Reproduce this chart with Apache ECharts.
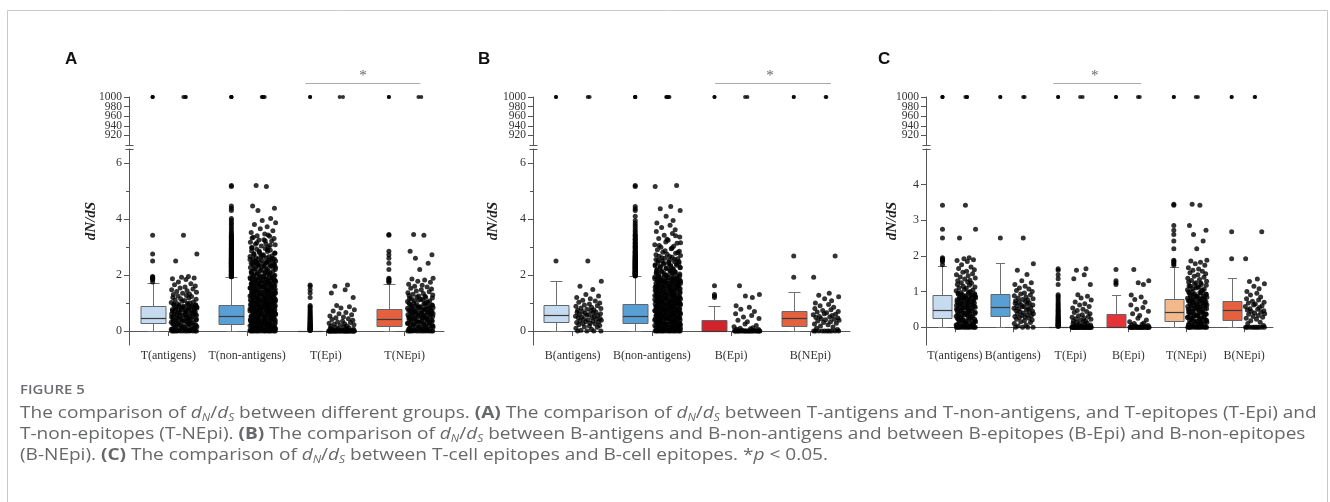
<!DOCTYPE html>
<html><head><meta charset="utf-8">
<script src="https://cdn.jsdelivr.net/npm/echarts@6/dist/echarts.min.js"></script>
<style>html,body{margin:0;padding:0;background:#fff}#c{width:1330px;height:502px}</style>
</head><body><div id="c"></div>
<script>
// ---------- categories ----------
const catsA = ['T(antigens)', 'T(non-antigens)', 'T(Epi)', 'T(NEpi)'];
const catsB = ['B(antigens)', 'B(non-antigens)', 'B(Epi)', 'B(NEpi)'];
const catsC = ['T(antigens)', 'B(antigens)', 'T(Epi)', 'B(Epi)', 'T(NEpi)', 'B(NEpi)'];

// ---------- tick labels ----------
const upperTicksOdd = [920, 960, 1000];
const upperTicksEven = [940, 980];
const lowerTicksAB = [0, 2, 4, 6];
const minorTicksAB = [1, 3, 5];
const lowerTicksC = [0, 1, 2, 3, 4];

// ---------- box statistics [min, Q1, median, Q3, upper whisker] ----------
const statTAntigens    = [0, 0.27, 0.48, 0.90, 1.71];
const statTNonAntigens = [0, 0.26, 0.52, 0.92, 1.92];
const statTEpi         = [0, 0, 0, 0, 0];
const statTNEpi        = [0, 0.18, 0.42, 0.80, 1.68];
const statBAntigens    = [0, 0.31, 0.58, 0.93, 1.80];
const statBNonAntigens = [0, 0.28, 0.53, 0.95, 1.95];
const statBEpi         = [0, 0, 0, 0.38, 0.90];
const statBNEpi        = [0, 0.19, 0.48, 0.73, 1.38];

// ---------- jitter offsets (fraction of half-width) ----------
const jitter = [-0.83,0.41,-0.12,0.95,-0.57,0.23,-0.96,0.68,-0.31,0.07,0.86,-0.74,0.52,-0.44,0.14,-0.9,0.77,-0.2,0.33,-0.65,0.98,-0.05,0.6,-0.38,0.89,-0.79,0.27,-0.52,0.45,-0.99,0.71,-0.15,0.03,-0.69,0.92,-0.27,0.36,-0.87,0.57,-0.47,0.18];

// ---------- individual dN/dS values ----------
const tAntigens = [
 0,0,0,0,0,0,0,0,0,0,0,0,
 0.02,0.03,0.05,0.07,0.08,0.1,0.12,0.13,0.15,0.17,0.19,0.2,0.22,0.23,0.26,0.27,0.29,0.31,0.32,0.34,0.36,0.37,0.39,0.41,0.43,0.44,0.46,0.48,0.49,0.51,0.53,0.55,0.56,0.58,0.6,0.61,0.63,0.65,0.67,0.68,0.7,0.72,0.74,0.75,0.77,0.79,0.81,0.83,0.84,0.86,0.88,0.9,0.92,0.94,0.96,0.98,
 0.01,0.04,0.06,0.09,0.11,0.14,0.16,0.18,0.21,0.24,0.25,0.28,0.3,0.33,0.35,0.38,0.4,0.42,0.45,0.47,0.5,0.52,0.54,0.57,0.59,0.62,0.64,0.66,0.69,0.71,0.73,0.76,0.78,0.8,0.82,0.85,0.87,0.89,0.91,0.93,0.95,0.97,
 1.0,1.02,1.04,1.06,1.09,1.11,1.13,1.15,1.18,1.2,1.23,1.25,1.27,1.3,1.32,1.35,1.38,1.41,1.44,1.47,1.5,1.54,1.57,1.61,1.65,1.69,1.75,1.84,1.87,1.89,1.92,1.95,2.5,2.75,3.42,
 1000,1000,1000];

const tNonAntigens = [
 0,0,0,0,0,0,0,0,0,0,0,0,0,0,
 0.01,0.02,0.03,0.05,0.06,0.07,0.08,0.09,0.11,0.12,0.13,0.14,0.16,0.17,0.18,0.19,0.2,0.22,0.23,0.24,0.25,0.27,0.28,0.29,0.3,0.31,0.33,0.34,0.35,0.37,0.38,0.39,0.4,0.41,0.43,0.44,0.45,0.46,0.48,0.49,0.5,0.52,0.53,0.54,0.55,0.57,0.58,0.59,0.6,0.62,0.63,0.64,0.65,0.67,0.68,0.69,0.71,0.72,0.73,0.74,0.76,0.77,0.78,0.79,0.81,0.82,0.83,0.85,0.86,0.87,0.88,0.9,0.91,0.92,0.94,0.95,0.96,0.97,0.99,1.0,1.01,1.03,1.04,1.05,1.07,1.08,1.09,1.11,1.12,1.13,1.15,1.16,1.17,1.19,
 1.2,1.22,1.23,1.25,1.26,1.28,1.3,1.31,1.33,1.34,1.36,1.38,1.39,1.41,1.42,1.44,1.46,1.47,1.49,1.5,1.52,1.54,1.55,1.57,1.58,1.6,1.62,1.63,1.65,1.66,1.68,1.7,1.71,1.73,1.74,1.76,1.78,1.79,1.81,1.82,1.84,1.86,1.87,1.89,1.9,1.92,1.94,1.95,1.97,1.99,2.01,2.03,2.05,2.07,2.09,2.11,2.13,2.15,2.17,2.2,2.22,2.25,2.27,2.3,
 2.31,2.33,2.34,2.36,2.37,2.39,2.4,2.42,2.43,2.45,2.46,2.48,2.5,2.52,2.54,2.55,2.57,2.58,2.61,2.62,2.65,2.66,2.69,2.71,2.72,2.76,2.78,2.8,2.84,2.86,2.88,2.92,2.95,2.96,3.0,3.04,3.08,3.1,3.12,3.17,3.21,3.25,3.26,3.3,3.35,3.38,3.4,3.46,
 3.52,3.58,3.65,3.72,3.8,3.87,3.95,4.02,4.3,4.38,4.46,5.16,5.2,
 0.015,0.035,0.045,0.065,0.085,0.105,0.115,0.135,0.155,0.175,0.195,0.215,0.235,0.255,0.265,0.285,0.305,0.325,0.345,0.365,0.375,0.395,0.415,0.435,0.455,0.475,0.485,0.505,0.525,0.545,0.565,0.585,0.595,0.615,0.635,0.655,0.675,0.695,0.705,0.725,0.745,0.765,0.785,0.805,0.815,0.835,0.855,0.875,0.895,0.915,0.925,0.945,0.965,0.985,1.005,1.025,1.035,1.055,1.075,1.095,1.115,1.135,1.145,1.165,1.185,1.205,1.225,1.245,1.255,1.275,1.295,1.315,1.335,1.355,1.365,1.385,1.405,1.425,1.445,1.465,1.475,1.495,1.515,1.535,1.555,1.575,1.585,1.605,1.625,1.645,1.665,1.685,1.695,1.715,1.735,1.755,1.775,1.795,1.805,1.825,1.845,1.865,1.885,1.905,1.935,1.965,1.985,2.015,2.045,2.075,2.105,2.135,2.165,2.195,2.235,2.265,2.295,2.325,2.355,2.385,2.415,2.445,2.475,2.515,2.555,2.595,2.635,2.685,2.735,2.79,2.85,2.9,2.98,3.06,3.15,3.22,3.32,3.43,
 1000,1000,1000,1000];

const tEpi = [
 0,0,0,0,0,0,0,0,0,0,0,0,0,0,0,0,0,0,0,0,0,0,0,0,0,0,0,0,0,0,
 0.02,0.03,0.04,0.05,0.06,0.08,0.09,0.1,0.12,0.13,0.15,0.17,0.18,0.2,0.22,0.24,0.26,0.28,0.3,0.32,0.35,0.38,0.41,0.44,0.47,0.5,0.54,0.58,0.62,0.66,0.71,0.76,0.82,0.87,0.91,
 1.2,1.36,1.47,1.6,1.64,
 1000,1000];

const tNEpi = [
 0,0,0,0,0,0,0,0,0,0,0,0,
 0.02,0.03,0.05,0.06,0.08,0.09,0.11,0.12,0.14,0.15,0.17,0.18,0.2,0.21,0.23,0.25,0.26,0.28,0.29,0.31,0.33,0.34,0.36,0.37,0.39,0.41,0.42,0.44,0.46,0.47,0.49,0.51,0.52,0.54,0.56,0.58,0.59,0.61,0.63,0.65,0.66,0.68,0.7,0.72,0.74,0.76,0.78,0.8,0.82,0.84,0.86,0.88,0.9,0.93,0.95,0.97,1.0,1.02,1.05,1.07,1.1,1.13,1.15,1.18,1.21,1.24,1.27,
 0.01,0.04,0.07,0.1,0.13,0.16,0.19,0.22,0.24,0.27,0.3,0.32,0.35,0.38,0.4,0.43,0.45,0.48,0.5,0.53,0.55,0.57,0.6,0.62,0.64,0.67,0.69,0.71,0.73,0.75,0.77,0.79,0.81,0.83,0.85,0.87,0.89,0.92,0.94,0.96,0.99,1.03,1.08,1.12,1.16,1.2,1.25,1.29,
 1.31,1.34,1.37,1.4,1.43,1.47,1.5,1.53,1.57,1.6,1.63,1.67,1.74,1.78,1.82,1.86,1.88,2.2,2.42,2.6,2.72,2.85,3.42,3.45,
 1000,1000];

const bAntigens = [
 0,0,0,0,0.03,0.06,0.1,0.13,0.15,0.18,0.2,0.22,0.25,0.27,0.28,0.3,0.32,0.33,0.35,0.37,0.38,0.4,0.42,0.43,0.45,0.47,0.48,0.5,0.52,0.53,0.55,0.57,0.58,0.6,0.62,0.63,0.65,0.67,0.68,0.7,0.72,0.74,0.76,0.78,0.8,0.82,0.85,0.88,0.9,0.93,0.96,1.0,1.03,1.07,1.1,1.15,1.2,1.25,1.3,1.48,1.6,1.78,2.5,
 1000,1000];

const bNonAntigens = [
 0,0,0,0,0,0,0,0,0,0,0,0,0,0,
 0.01,0.02,0.04,0.05,0.06,0.07,0.09,0.1,0.11,0.12,0.14,0.15,0.16,0.18,0.19,0.2,0.21,0.23,0.24,0.25,0.26,0.28,0.29,0.3,0.32,0.33,0.34,0.35,0.37,0.38,0.39,0.41,0.42,0.43,0.44,0.46,0.47,0.48,0.5,0.51,0.52,0.53,0.55,0.56,0.57,0.59,0.6,0.61,0.62,0.64,0.65,0.66,0.68,0.69,0.7,0.72,0.73,0.74,0.75,0.77,0.78,0.79,0.8,0.82,0.83,0.84,0.86,0.87,0.88,0.89,0.91,0.92,0.93,0.95,0.96,0.97,0.98,1.0,1.01,1.02,1.04,1.05,1.06,1.08,1.09,1.1,1.12,1.13,1.14,1.16,1.17,1.18,
 1.2,1.21,1.23,1.24,1.26,1.27,1.29,1.31,1.32,1.34,1.35,1.37,1.39,1.4,1.42,1.43,1.45,1.47,1.48,1.5,1.51,1.53,1.55,1.56,1.58,1.59,1.61,1.63,1.64,1.66,1.67,1.69,1.71,1.72,1.74,1.75,1.77,1.79,1.8,1.82,1.83,1.85,1.87,1.88,1.9,1.91,1.93,1.96,1.98,2.0,2.02,2.04,2.06,2.08,2.1,2.12,2.14,2.16,2.18,2.21,2.23,2.26,2.28,2.3,2.33,2.35,2.38,2.4,2.43,2.45,2.47,2.5,
 2.52,2.55,2.58,2.6,2.63,2.67,2.7,2.74,2.78,2.81,2.85,2.9,2.94,2.99,3.03,3.08,3.13,3.18,3.24,3.3,3.36,3.42,3.48,
 3.55,3.62,3.7,3.78,3.86,3.95,4.1,4.3,4.37,4.45,5.16,5.2,
 0.015,0.025,0.045,0.065,0.085,0.095,0.115,0.135,0.155,0.175,0.185,0.205,0.225,0.245,0.265,0.275,0.295,0.315,0.335,0.355,0.365,0.385,0.405,0.425,0.445,0.455,0.475,0.495,0.515,0.535,0.545,0.565,0.585,0.605,0.625,0.635,0.655,0.675,0.695,0.715,0.725,0.745,0.765,0.785,0.805,0.815,0.835,0.855,0.875,0.895,0.905,0.925,0.945,0.965,0.985,0.995,1.015,1.035,1.055,1.075,1.085,1.105,1.125,1.145,1.165,1.175,1.195,1.215,1.235,1.255,1.265,1.285,1.305,1.325,1.345,1.355,1.375,1.395,1.415,1.435,1.445,1.465,1.485,1.505,1.525,1.535,1.555,1.575,1.595,1.615,1.625,1.645,1.665,1.685,1.705,1.715,1.735,1.755,1.775,1.795,1.805,1.825,1.845,1.865,1.885,1.895,1.915,1.945,1.975,2.005,2.035,2.065,2.095,2.125,2.155,2.185,2.215,2.245,2.275,2.305,2.335,2.365,2.395,2.425,2.455,2.485,2.515,2.565,2.615,2.665,2.72,2.8,2.87,2.96,3.05,3.15,3.28,3.4,
 1000,1000,1000,1000];

const bEpi = [
 0,0,0,0,0,0,0,0,0,0,0,0,0,0,0,0,0,0,0,0,0,0,
 0.02,0.03,0.05,0.06,0.08,0.1,0.12,0.15,0.2,0.25,0.33,0.38,0.45,0.5,0.55,0.62,0.7,0.78,0.85,0.9,
 1.2,1.25,1.3,1.62,
 1000,1000];

const bNEpi = [
 0,0,0,0,0,0,0,0,0,0,
 0.05,0.1,0.14,0.18,0.22,0.25,0.28,0.3,0.33,0.36,0.38,0.4,0.42,0.44,0.46,0.48,0.5,0.52,0.55,0.58,0.6,0.62,0.65,0.68,0.7,0.73,0.76,0.8,0.85,0.9,0.95,1.0,1.08,1.15,1.22,1.28,1.35,1.92,2.68,
 1000,1000];

// ---------- layout / style config ----------
const UP_TOP = 97, UP_H = 48, LO_TOP = 149, LO_H = 196;
const AXIS_COLOR = '#555', LABEL_COLOR = '#333';
const SERIF = "'Liberation Serif', 'DejaVu Serif', serif";
const panels = [
 {letter:'A', letterX:65, cats:catsA, values:[tAntigens,tNonAntigens,tEpi,tNEpi],
  stats:[statTAntigens,statTNonAntigens,statTEpi,statTNEpi],
  colors:['#c6dbef','#5a9fd4','#5a9fd4','#e4603f'],
  left:129, width:315, lowMin:-0.5, lowMax:6.5, ticks:lowerTicksAB, minor:minorTicksAB,
  boxOff:-0.2, scatOff:0.2, jit:0.165, boxW:25, capW:12, sig:[2.24,3.7], star:2.97, ylab:38},
 {letter:'B', letterX:478, cats:catsB, values:[bAntigens,bNonAntigens,bEpi,bNEpi],
  stats:[statBAntigens,statBNonAntigens,statBEpi,statBNEpi],
  colors:['#c6dbef','#5a9fd4','#d3222a','#e4603f'],
  left:533, width:317, lowMin:-0.5, lowMax:6.5, ticks:lowerTicksAB, minor:minorTicksAB,
  boxOff:-0.21, scatOff:0.2, jit:0.165, boxW:25, capW:12, sig:[2.3,3.76], star:2.99, ylab:40},
 {letter:'C', letterX:878, cats:catsC, values:[tAntigens,bAntigens,tEpi,bEpi,tNEpi,bNEpi],
  stats:[statTAntigens,statBAntigens,statTEpi,statBEpi,statTNEpi,statBNEpi],
  colors:['#c6dbef','#5a9fd4','#5a9fd4','#e53338','#f2b98c','#e4603f'],
  left:926, width:347, lowMin:-0.5, lowMax:5, ticks:lowerTicksC, minor:[],
  boxOff:-0.215, scatOff:0.19, jit:0.17, boxW:19, capW:9, sig:[2.2,3.72], star:2.92, ylab:34}
];

const plain = v => String(v);
const grids = [], xAxes = [], yAxes = [], series = [];
panels.forEach((P, k) => {
  const n = P.cats.length;
  grids.push({left:P.left, top:LO_TOP, width:P.width, height:LO_H, containLabel:false, outerBoundsMode:'none'});
  grids.push({left:P.left, top:UP_TOP, width:P.width, height:UP_H, containLabel:false, outerBoundsMode:'none'});
  const gL = 2*k, gU = 2*k+1;
  xAxes.push({type:'category', gridIndex:gL, data:P.cats, position:'bottom', boundaryGap:true,
    axisLine:{show:true, lineStyle:{color:AXIS_COLOR, width:1}},
    axisTick:{show:true, alignWithLabel:true, length:5, lineStyle:{color:AXIS_COLOR}},
    axisLabel:{interval:0, hideOverlap:false, fontFamily:SERIF, fontSize:12, color:LABEL_COLOR, margin:5},
    splitLine:{show:false}});
  xAxes.push({type:'value', gridIndex:gL, min:0, max:n, show:false});
  xAxes.push({type:'value', gridIndex:gU, min:0, max:n, show:false});
  const xLo = 3*k+1, xUp = 3*k+2;
  // 4k: lower, 4k+1: lower minor ticks, 4k+2: upper (920/960/1000), 4k+3: upper (940/980)
  yAxes.push({type:'value', gridIndex:gL, position:'left', offset:0, min:P.lowMin, max:P.lowMax,
    axisLine:{show:true, onZero:false, lineStyle:{color:AXIS_COLOR, width:1}},
    axisTick:{show:true, length:5, customValues:P.ticks, lineStyle:{color:AXIS_COLOR}},
    axisLabel:{customValues:P.ticks, formatter:plain, hideOverlap:false, showMinLabel:true, showMaxLabel:true, fontFamily:SERIF, fontSize:12, color:LABEL_COLOR, margin:7},
    splitLine:{show:false}});
  yAxes.push({type:'value', gridIndex:gL, position:'left', offset:0, min:P.lowMin, max:P.lowMax,
    show:P.minor.length>0,
    axisLine:{show:false},
    axisTick:{show:true, length:3, customValues:P.minor.length?P.minor:[0], lineStyle:{color:AXIS_COLOR}},
    axisLabel:{show:false}, splitLine:{show:false}});
  [upperTicksOdd, upperTicksEven].forEach((tv, q) => yAxes.push({type:'value', gridIndex:gU, position:'left', offset:0, min:900, max:1000,
    axisLine:{show:q===0, onZero:false, lineStyle:{color:AXIS_COLOR, width:1}},
    axisTick:{show:true, length:5, customValues:tv, lineStyle:{color:AXIS_COLOR}},
    axisLabel:{customValues:tv, formatter:plain, hideOverlap:false, showMinLabel:true, showMaxLabel:true, fontFamily:SERIF, fontSize:11.5, color:LABEL_COLOR, margin:7},
    splitLine:{show:false}}));
  const yLo = 4*k, yUp = 4*k+2;

  // boxes
  const boxData = P.stats.map((s, i) => [i + 0.5 + P.boxOff, s[0], s[1], s[2], s[3], s[4], i]);
  series.push({type:'custom', xAxisIndex:xLo, yAxisIndex:yLo, silent:true, clip:false, z:3,
    data:boxData,
    renderItem:(params, api) => {
      const x = api.value(0);
      const lo = api.coord([x, api.value(1)]);
      const q1 = api.coord([x, api.value(2)]);
      const md = api.coord([x, api.value(3)]);
      const q3 = api.coord([x, api.value(4)]);
      const hi = api.coord([x, api.value(5)]);
      const col = P.colors[api.value(6)];
      const cx = Math.round(lo[0]) + 0.5, bw = P.boxW, cw = P.capW;
      const r = v => Math.round(v) + 0.5;
      const ws = {stroke:'#6f6f6f', lineWidth:1};
      return {type:'group', children:[
        {type:'line', shape:{x1:cx, y1:r(hi[1]), x2:cx, y2:r(q3[1])}, style:ws},
        {type:'line', shape:{x1:cx, y1:r(q1[1]), x2:cx, y2:r(lo[1])}, style:ws},
        {type:'line', shape:{x1:cx-cw/2, y1:r(hi[1]), x2:cx+cw/2, y2:r(hi[1])}, style:ws},
        {type:'line', shape:{x1:cx-cw/2, y1:r(lo[1]), x2:cx+cw/2, y2:r(lo[1])}, style:ws},
        {type:'rect', shape:{x:cx-bw/2, y:r(q3[1]), width:bw, height:r(q1[1])-r(q3[1])}, style:{fill:col, stroke:'#5e6670', lineWidth:1}},
        {type:'line', shape:{x1:cx-bw/2, y1:r(md[1]), x2:cx+bw/2, y2:r(md[1])}, style:{stroke:'#3a3a3a', lineWidth:1.2}}
      ]};
    }});

  // box outliers (values above the upper whisker, on the box column) and jittered points
  const outLo = [], outUp = [], scLo = [], scUp = [];
  P.values.forEach((arr, i) => {
    const wh = P.stats[i][4];
    arr.forEach((v, j) => {
      const jx = jitter[j % jitter.length];
      if (v > wh) (v >= 900 ? outUp : outLo).push([i + 0.5 + P.boxOff, v]);
      if (v >= 900) scUp.push([i + 0.5 + P.scatOff + jx * P.jit * 0.15, v]);
      else scLo.push([i + 0.5 + P.scatOff + jx * P.jit, v]);
    });
  });
  const dot = {color:'#000'};
  series.push({type:'scatter', xAxisIndex:xLo, yAxisIndex:yLo, data:outLo, symbolSize:5, itemStyle:dot, silent:true, clip:false, z:4});
  series.push({type:'scatter', xAxisIndex:xLo, yAxisIndex:yLo, data:scLo, symbolSize:5, itemStyle:dot, silent:true, clip:false, z:4});
  series.push({type:'scatter', xAxisIndex:xUp, yAxisIndex:yUp, data:outUp, symbolSize:4, itemStyle:dot, silent:true, clip:false, z:4});
  series.push({type:'scatter', xAxisIndex:xUp, yAxisIndex:yUp, data:scUp, symbolSize:4, itemStyle:dot, silent:true, clip:false, z:4});
});

const chart = echarts.init(document.getElementById('c'), null, {renderer:'canvas'});
chart.setOption({animation:false, backgroundColor:'#fff', grid:grids, xAxis:xAxes, yAxis:yAxes, series:series});

// ---------- decorations computed from the axes ----------
const g = [];
g.push({type:'rect', shape:{x:7.5, y:10.5, width:1320, height:520}, style:{fill:'none', stroke:'#c9c9c9', lineWidth:1}, silent:true});
panels.forEach((P, k) => {
  const xUp = 3*k+2, yLo = 4*k, yUp = 4*k+2;
  const axisX = Math.round(chart.convertToPixel({xAxisIndex:xUp}, 0)) + 0.5;
  const y1000 = chart.convertToPixel({yAxisIndex:yUp}, 1000);
  const y900 = chart.convertToPixel({yAxisIndex:yUp}, 900);
  const yTopLo = chart.convertToPixel({yAxisIndex:yLo}, P.lowMax);
  const yBotLo = chart.convertToPixel({yAxisIndex:yLo}, P.lowMin);
  [y900, yTopLo].forEach(yy => g.push({type:'line', silent:true, shape:{x1:axisX-4, y1:Math.round(yy)+0.5, x2:axisX+4, y2:Math.round(yy)+0.5}, style:{stroke:AXIS_COLOR, lineWidth:1}}));
  const sx1 = chart.convertToPixel({xAxisIndex:xUp}, P.sig[0]);
  const sx2 = chart.convertToPixel({xAxisIndex:xUp}, P.sig[1]);
  const sy = Math.round(y1000 - 14) + 0.5;
  g.push({type:'line', silent:true, shape:{x1:sx1, y1:sy, x2:sx2, y2:sy}, style:{stroke:'#aaa', lineWidth:1}});
  g.push({type:'text', silent:true, x:chart.convertToPixel({xAxisIndex:xUp}, P.star), y:sy-7,
    style:{text:'*', fontFamily:SERIF, fontSize:15, fill:'#666', align:'center', verticalAlign:'middle'}});
  g.push({type:'text', silent:true, x:P.left - P.ylab, y:(y1000 + yBotLo)/2, rotation:Math.PI/2,
    style:{text:'dN/dS', fontFamily:SERIF, fontStyle:'italic', fontWeight:'bold', fontSize:15, fill:'#222', align:'center', verticalAlign:'middle'}});
  g.push({type:'text', silent:true, x:P.letterX, y:59,
    style:{text:P.letter, fontFamily:"'Liberation Sans', Arial, sans-serif", fontWeight:'bold', fontSize:17, fill:'#111', align:'left', verticalAlign:'middle'}});
});

// ---------- caption ----------
const CAP_FONT = "'Open Sans', 'Noto Sans', sans-serif";
const CAP_SIZE = 16, CAP_COLOR = '#67686a', CAP_STRETCH = 1.19;
const rich = {
  i:{fontFamily:CAP_FONT, fontSize:CAP_SIZE, fontStyle:'italic', fill:CAP_COLOR, lineHeight:20},
  s:{fontFamily:CAP_FONT, fontSize:10, fontStyle:'italic', fill:CAP_COLOR, lineHeight:12, verticalAlign:'bottom'},
  b:{fontFamily:CAP_FONT, fontSize:CAP_SIZE, fontWeight:'bold', fill:CAP_COLOR, lineHeight:20}
};
const captionLines = [
  'The comparison of {i|d}{s|N}/{i|d}{s|S} between different groups. {b|(A)} The comparison of {i|d}{s|N}/{i|d}{s|S} between T-antigens and T-non-antigens, and T-epitopes (T-Epi) and',
  'T-non-epitopes (T-NEpi). {b|(B)} The comparison of {i|d}{s|N}/{i|d}{s|S} between B-antigens and B-non-antigens and between B-epitopes (B-Epi) and B-non-epitopes',
  '(B-NEpi). {b|(C)} The comparison of {i|d}{s|N}/{i|d}{s|S} between T-cell epitopes and B-cell epitopes. *{i|p} < 0.05.'
];
g.push({type:'text', silent:true, x:20, y:390, scaleX:1.15,
  style:{text:'FIGURE 5', fontFamily:CAP_FONT, fontWeight:600, fontSize:13, fill:'#6d6e71', align:'left', verticalAlign:'middle'}});
captionLines.forEach((t, i) => g.push({type:'text', silent:true, x:20, y:413 + i*21, scaleX:CAP_STRETCH,
  style:{text:t, fontFamily:CAP_FONT, fontSize:CAP_SIZE, fill:CAP_COLOR, lineHeight:20, align:'left', verticalAlign:'middle', rich:rich}}));

chart.setOption({graphic:g});
</script></body></html>
